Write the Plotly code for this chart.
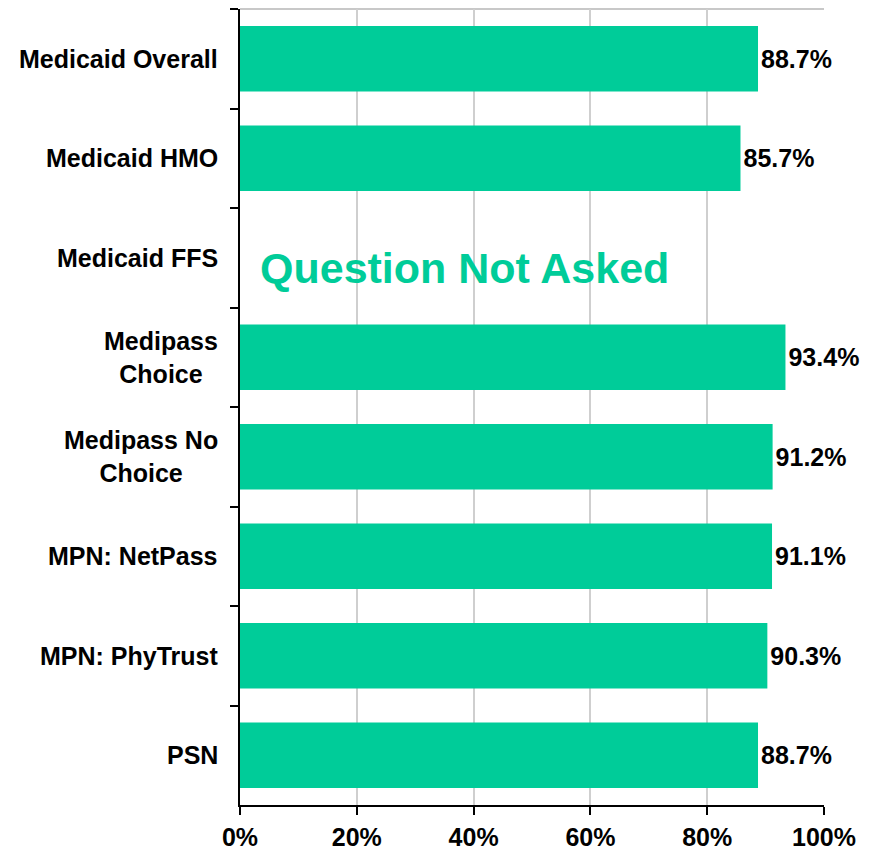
import plotly.graph_objects as go

categories = ["Medicaid Overall", "Medicaid HMO", "Medicaid FFS", "Medipass<br>Choice",
              "Medipass No<br>Choice", "MPN: NetPass", "MPN: PhyTrust", "PSN"]
values = [88.7, 85.7, None, 93.4, 91.2, 91.1, 90.3, 88.7]
value_labels = ["88.7%", "85.7%", "", "93.4%", "91.2%", "91.1%", "90.3%", "88.7%"]
tick_vals = [0, 20, 40, 60, 80, 100]
tick_text = ["0%", "20%", "40%", "60%", "80%", "100%"]
missing_note = "Question Not Asked"
missing_category = "Medicaid FFS"

GREEN = "#00CC99"
FONT = "Liberation Sans, Arial, sans-serif"

fig = go.Figure()
fig.add_trace(go.Bar(
    y=categories, x=values, orientation="h",
    marker=dict(color=GREEN, line=dict(width=0)),
    width=0.66,
    text=value_labels, textposition="outside", cliponaxis=False,
    constraintext="none",
    textfont=dict(family=FONT, size=25, color="black", weight="bold"),
    hoverinfo="skip",
))

annotations = []
for c in categories:
    annotations.append(dict(
        xref="paper", yref="y", x=0, y=c, xanchor="right", yanchor="middle",
        xshift=-20, text=c, showarrow=False, align="center",
        font=dict(family=FONT, size=25, color="black", weight="bold"),
    ))
annotations.append(dict(
    xref="x", yref="y", x=3, y=missing_category, xanchor="left", yanchor="middle",
    yshift=-10, text=missing_note, showarrow=False,
    font=dict(family=FONT, size=43, color=GREEN, weight="bold"),
))

fig.update_layout(
    width=871, height=856,
    margin=dict(l=240, r=47, t=9, b=51, autoexpand=False),
    paper_bgcolor="white", plot_bgcolor="white",
    showlegend=False,
    bargap=0.34,
    annotations=annotations,
    shapes=[dict(type="line", xref="paper", yref="paper", x0=0, x1=1, y0=1, y1=1,
                 line=dict(color="#C8C8C8", width=2), layer="below")],
    xaxis=dict(
        range=[0, 100], tickvals=tick_vals, ticktext=tick_text,
        showgrid=True, gridcolor="#CFCFCF", gridwidth=2,
        showline=True, linecolor="black", linewidth=2,
        ticks="outside", ticklen=8, tickcolor="black", tickwidth=2,
        ticklabelstandoff=1, automargin=False,
        tickfont=dict(family=FONT, size=25, color="black", weight="bold"),
        zeroline=False, fixedrange=True,
    ),
    yaxis=dict(
        categoryorder="array", categoryarray=categories, autorange="reversed",
        showticklabels=False, showgrid=False, automargin=False,
        showline=True, linecolor="black", linewidth=2,
        ticks="outside", ticklen=8, tickcolor="black", tickwidth=2,
        tickson="boundaries", zeroline=False, fixedrange=True,
    ),
)

fig.write_html("out.html", config={"displayModeBar": False, "staticPlot": True},
               post_script="document.body.style.margin='0';document.body.style.padding='0';")
